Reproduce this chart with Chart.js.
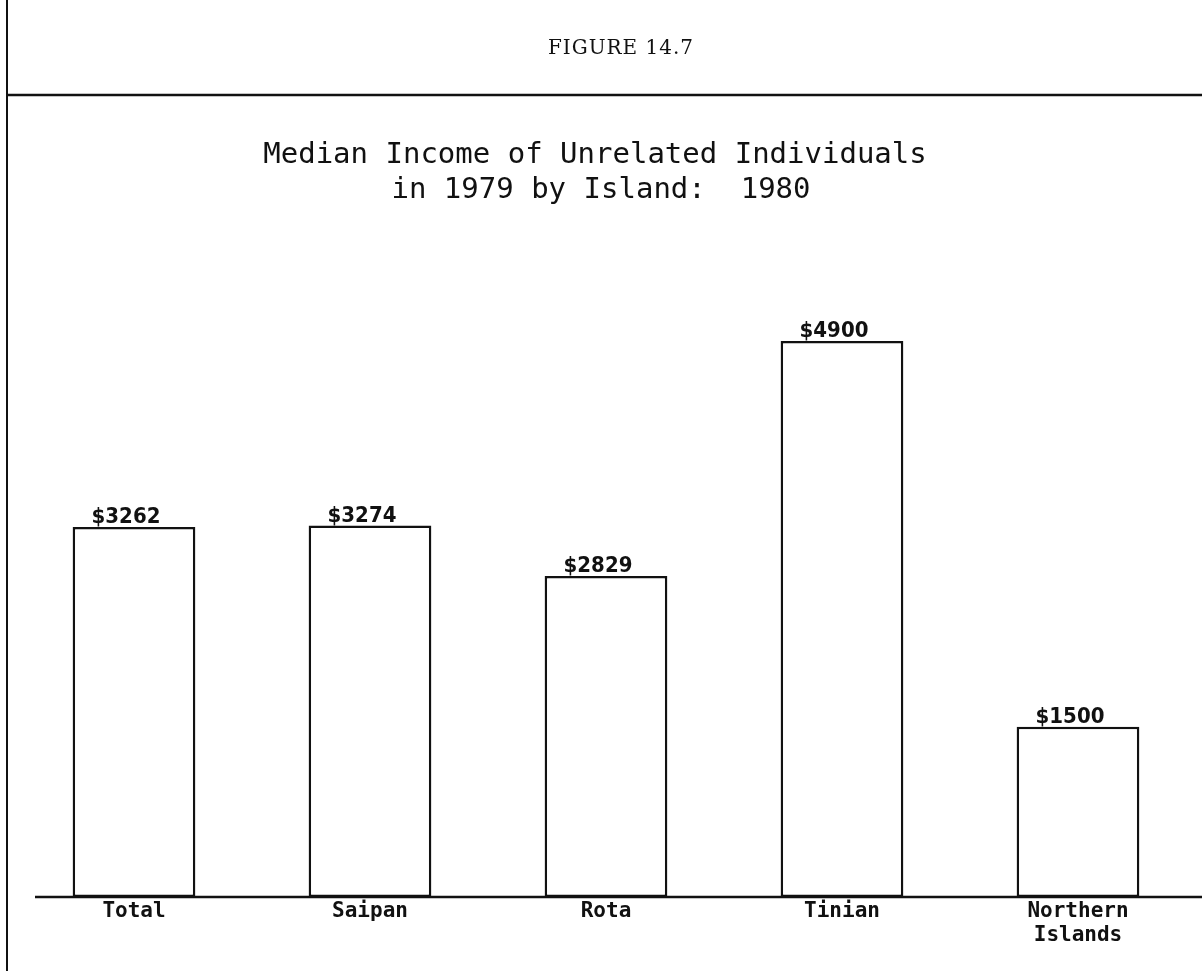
<!DOCTYPE html>
<html>
<head>
<meta charset="utf-8">
<script src="https://cdn.jsdelivr.net/npm/chart.js@4"></script>
<style>
  html,body{margin:0;padding:0;background:#fff;}
  #wrap{width:1202px;height:971px;}
</style>
</head>
<body>
<div id="wrap"><canvas id="graf" width="1202" height="971"></canvas></div>
<script>
// dados
let islands = ['Total', 'Saipan', 'Rota', 'Tinian', ['Northern', 'Islands']];
let income = [3262, 3274, 2829, 4900, 1500];
let figLabel = 'FIGURE 14.7';
let titleLines = ['Median Income of Unrelated Individuals', 'in 1979 by Island:  1980'];

// moldura da pagina, titulo e valores sobre as barras
const decoracao = {
  id: 'decoracao',
  afterDraw(chart) {
    let ctx = chart.ctx;
    let area = chart.chartArea;
    ctx.save();
    ctx.strokeStyle = '#111';
    // linha vertical da esquerda
    ctx.lineWidth = 2;
    ctx.beginPath(); ctx.moveTo(7, 0); ctx.lineTo(7, 971); ctx.stroke();
    // linha horizontal abaixo do rotulo
    ctx.lineWidth = 2.5;
    ctx.beginPath(); ctx.moveTo(7, 95); ctx.lineTo(1202, 95); ctx.stroke();
    // linha base
    ctx.beginPath(); ctx.moveTo(35, area.bottom); ctx.lineTo(1202, area.bottom); ctx.stroke();

    ctx.fillStyle = '#111';
    ctx.textAlign = 'center';
    ctx.textBaseline = 'alphabetic';
    ctx.font = '20px "DejaVu Serif"';
    ctx.letterSpacing = '1px';
    ctx.fillText(figLabel, 621, 54);
    ctx.letterSpacing = '0px';

    ctx.font = '29px "DejaVu Sans Mono"';
    ctx.fillText(titleLines[0], 595, 163);
    ctx.fillText(titleLines[1], 601, 198);

    // valores
    ctx.font = 'bold 22px "DejaVu Sans Condensed", "DejaVu Sans"';
    let meta = chart.getDatasetMeta(0);
    meta.data.forEach((bar, i) => {
      ctx.fillText('$' + income[i], bar.x - 8, bar.y - 4);
    });
    ctx.restore();
  }
};

new Chart(document.getElementById('graf').getContext('2d'), {
  type: 'bar',
  data: {
    labels: islands,
    datasets: [{
      label: 'Median income',
      data: income,
      backgroundColor: '#ffffff',
      borderColor: '#111111',
      borderWidth: 2.5,
      borderSkipped: false,
      barPercentage: 0.52,
      categoryPercentage: 1
    }]
  },
  options: {
    responsive: false,
    animation: false,
    layout: {padding: {top: 273, left: 16, right: 6, bottom: 20}},
    plugins: {legend: {display: false}, tooltip: {enabled: false}},
    scales: {
      y: {display: false, min: 0, max: 5500},
      x: {
        grid: {display: false, drawTicks: false},
        border: {display: false},
        ticks: {
          color: '#111',
          padding: 3,
          maxRotation: 0,
          font: {family: '"DejaVu Sans Mono"', size: 21, weight: 'bold', lineHeight: '24px'}
        }
      }
    }
  },
  plugins: [decoracao]
});
</script>
</body>
</html>
